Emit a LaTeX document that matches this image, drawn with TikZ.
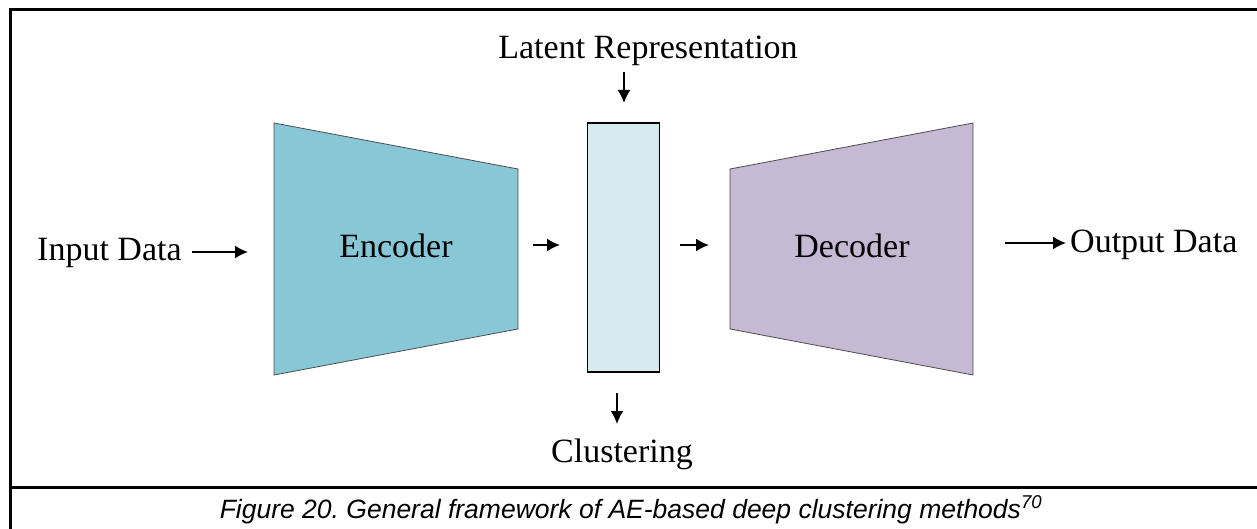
\documentclass[tikz,border=0pt]{standalone}
\usepackage{fontspec}
\setmainfont{Liberation Serif}
\newfontfamily\capfont{Liberation Sans}
\usetikzlibrary{arrows.meta}
\definecolor{encblue}{HTML}{88C7D6}
\definecolor{decpurple}{HTML}{C5B9D3}
\definecolor{latblue}{HTML}{D7EAF0}
\tikzset{
  frame/.style={line width=3pt, line cap=rect},
  lbl/.style={font=\fontsize{34}{40}\selectfont, inner sep=0pt, anchor=base},
  flow/.style={line width=1.8pt, -{Latex[length=13pt,width=13pt]}},
  trap/.style={draw=black!70, line width=0.8pt},
}
\begin{document}
\begin{tikzpicture}[x=1pt,y=-1pt]
\useasboundingbox (0,0) rectangle (1257,529);
% frame and caption rule
\draw[frame] (10.5,529) -- (10.5,9.5) -- (1260,9.5);
\draw[frame] (10.5,487.5) -- (1260,487.5);
\node[inner sep=0pt, anchor=base, font=\capfont\itshape\fontsize{26.5}{30}\selectfont] (cap) at (631,518)
  {\frenchspacing Figure 20. General framework of AE-based deep clustering methods\textsuperscript{70}};

% encoder / latent / decoder
\draw[trap, fill=encblue] (274,123) -- (518,169) -- (518,329) -- (274,375) -- cycle;
\draw[trap, fill=decpurple] (730,169) -- (973,123) -- (973,375) -- (730,329) -- cycle;
\node[draw=black, line width=1.5pt, fill=latblue, minimum width=72pt, minimum height=249pt, inner sep=0pt] (lat) at (623.5,247.5) {};

\node[lbl] (enc) at (396,258) {Encoder};
\node[lbl] (dec) at (852,258) {Decoder};
\node[lbl] (lr) at (648,59) {Latent Representation};
\node[lbl] (cl) at (622,462) {Clustering};
\node[lbl, anchor=base west] (in) at (37,261) {Input Data};
\node[lbl, anchor=base west] (out) at (1070,253) {Output Data};

% connector end points
\coordinate (inA) at (192,252);  \coordinate (inB) at (248,252);
\coordinate (e1) at (533,245);   \coordinate (e2) at (560,245);
\coordinate (d1) at (680,245);   \coordinate (d2) at (709,245);
\coordinate (oA) at (1005,243);  \coordinate (oB) at (1066,243);
\coordinate (t1) at (624,72);    \coordinate (t2) at (624,103);
\coordinate (b1) at (617,393);   \coordinate (b2) at (617,424);

\draw[flow] (inA) -- (inB);
\draw[flow] (e1) -- (e2);
\draw[flow] (d1) -- (d2);
\draw[flow] (oA) -- (oB);
\draw[flow] (t1) -- (t2);
\draw[flow] (b1) -- (b2);
\end{tikzpicture}
\end{document}
